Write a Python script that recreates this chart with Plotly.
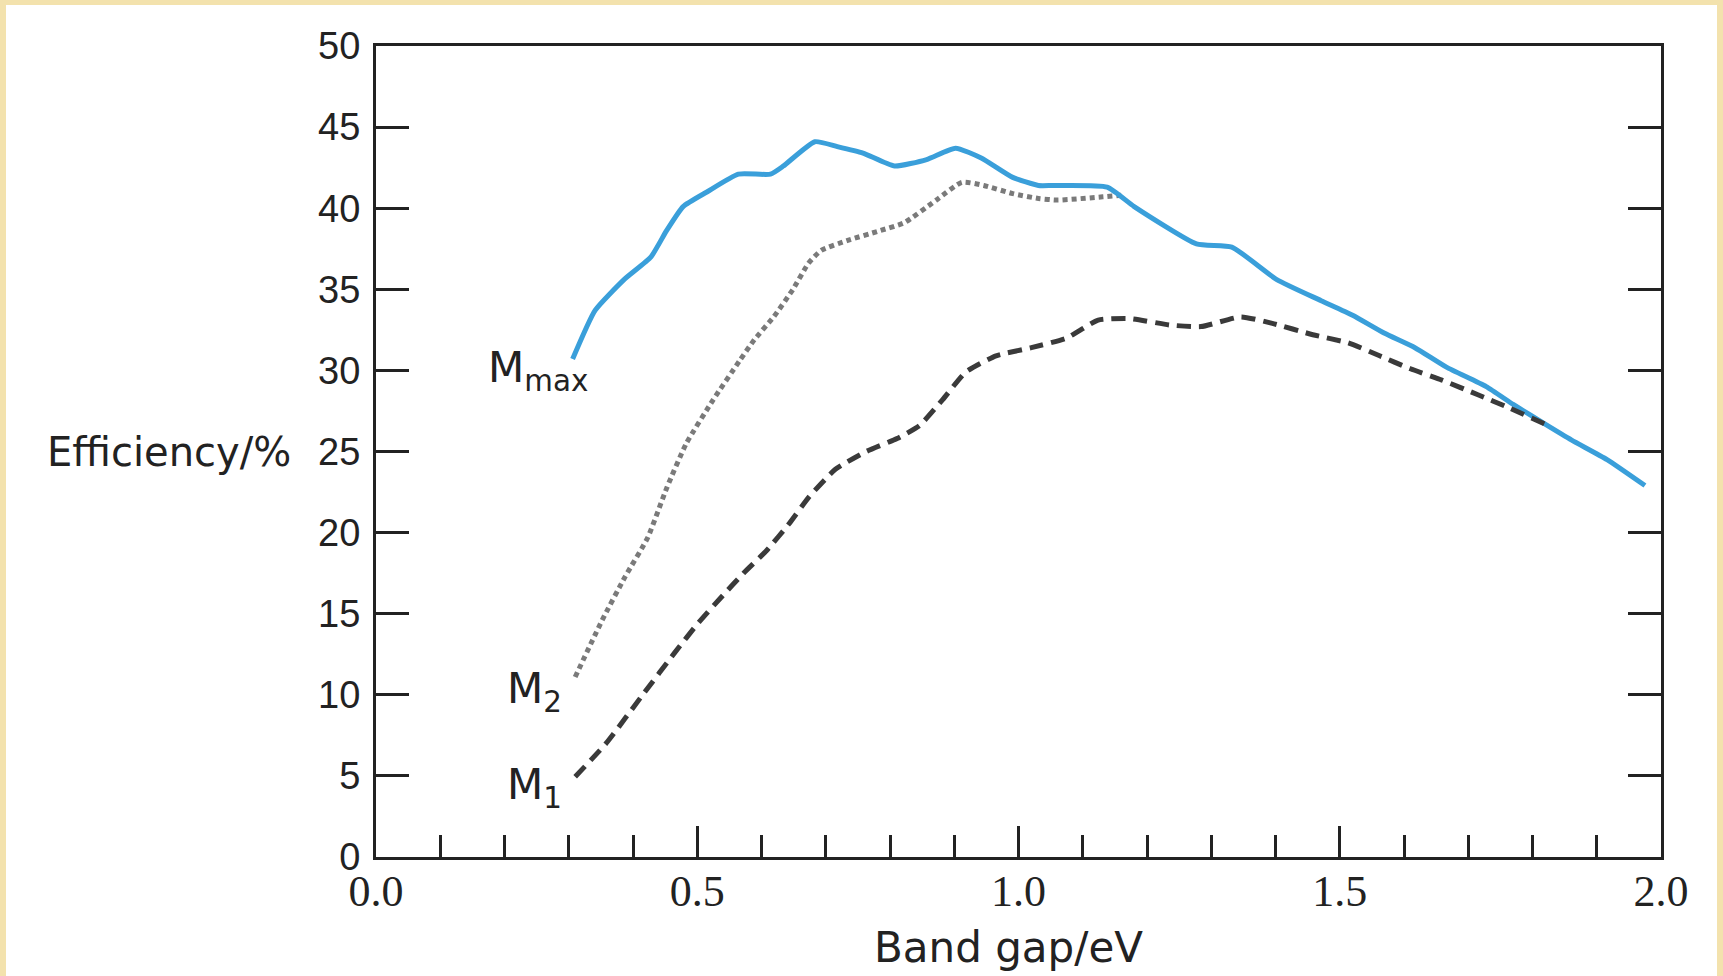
import plotly.graph_objects as go

# ---- data ----
mmax_x = [0.306, 0.341, 0.386, 0.428, 0.452, 0.478, 0.515, 0.564, 0.614, 0.634, 0.683, 0.718,
          0.758, 0.807, 0.857, 0.902, 0.942, 0.991, 1.031, 1.055, 1.138, 1.180, 1.277, 1.332,
          1.402, 1.471, 1.520, 1.569, 1.617, 1.666, 1.728, 1.770, 1.819, 1.861, 1.916, 1.975]
mmax_y = [30.7, 33.7, 35.6, 37.0, 38.6, 40.1, 41.0, 42.1, 42.1, 42.6, 44.1, 43.8,
          43.4, 42.6, 43.0, 43.7, 43.1, 41.9, 41.4, 41.4, 41.3, 40.1, 37.8, 37.6,
          35.6, 34.3, 33.4, 32.3, 31.4, 30.2, 29.0, 27.9, 26.7, 25.7, 24.5, 22.9]

m2_x = [0.310, 0.352, 0.388, 0.423, 0.453, 0.483, 0.525, 0.566, 0.589, 0.619, 0.649, 0.673,
        0.693, 0.733, 0.783, 0.822, 0.872, 0.912, 0.946, 0.991, 1.031, 1.061, 1.131, 1.160]
m2_y = [11.1, 14.6, 17.3, 19.7, 22.8, 25.5, 28.2, 30.6, 31.9, 33.3, 35.0, 36.6,
        37.4, 38.0, 38.6, 39.1, 40.5, 41.6, 41.4, 40.9, 40.6, 40.5, 40.7, 40.8]

m1_x = [0.310, 0.358, 0.417, 0.465, 0.501, 0.537, 0.572, 0.608, 0.644, 0.674, 0.715, 0.763,
        0.811, 0.846, 0.882, 0.918, 0.965, 1.020, 1.075, 1.124, 1.173, 1.235, 1.284, 1.346,
        1.395, 1.458, 1.513, 1.562, 1.610, 1.659, 1.715, 1.763, 1.819]
m1_y = [4.95, 7.0, 10.1, 12.6, 14.4, 16.0, 17.5, 18.9, 20.6, 22.2, 23.9, 25.0,
        25.8, 26.6, 28.2, 29.9, 30.9, 31.4, 32.0, 33.1, 33.2, 32.8, 32.7, 33.3,
        32.9, 32.2, 31.7, 30.9, 30.1, 29.4, 28.5, 27.7, 26.7]

x_ticks = [0.0, 0.5, 1.0, 1.5, 2.0]
y_ticks = [0, 5, 10, 15, 20, 25, 30, 35, 40, 45, 50]

W, H = 1723, 976
L, R, T, B = 376, 1661, 46, 857

fig = go.Figure()
fig.add_trace(go.Scatter(x=m2_x, y=m2_y, mode="lines",
                         line=dict(color="#7a7a7a", width=5, dash="5px,4px", shape="spline", smoothing=0.5)))
fig.add_trace(go.Scatter(x=mmax_x, y=mmax_y, mode="lines",
                         line=dict(color="#3a9fda", width=5, shape="spline", smoothing=0.5)))
fig.add_trace(go.Scatter(x=m1_x, y=m1_y, mode="lines",
                         line=dict(color="#3a3a3a", width=5, dash="14px,8px", shape="spline", smoothing=0.5)))

def px_x(p):
    return (p - L) / (R - L)

def px_y(p):
    return (B - p) / (B - T)

fig.add_shape(type="rect", xref="paper", yref="paper",
              x0=px_x(6), x1=px_x(1717), y0=px_y(980), y1=px_y(5),
              fillcolor="white", line=dict(width=0), layer="below")

lab_font = dict(family="DejaVu Sans", size=42, color="#222222")
fig.add_annotation(text="M<sub>max</sub>", x=0.333, y=30.0, xref="x", yref="y",
                   xanchor="right", yanchor="middle", showarrow=False, font=lab_font)
fig.add_annotation(text="M<sub>2</sub>", x=0.292, y=10.2, xref="x", yref="y",
                   xanchor="right", yanchor="middle", showarrow=False, font=lab_font)
fig.add_annotation(text="M<sub>1</sub>", x=0.292, y=4.3, xref="x", yref="y",
                   xanchor="right", yanchor="middle", showarrow=False, font=lab_font)
fig.add_annotation(text="Efficiency/%", x=px_x(293), y=25, xref="paper", yref="y",
                   xanchor="right", yanchor="middle", showarrow=False,
                   font=dict(family="DejaVu Sans", size=40, color="#222222"))
fig.add_annotation(text="Band gap/eV", x=0.985, y=px_y(947), xref="x", yref="paper",
                   xanchor="center", yanchor="middle", showarrow=False, font=lab_font)

fig.update_xaxes(range=[0, 2], tickvals=x_ticks, ticktext=[f"{v:.1f}" for v in x_ticks],
                 showgrid=False, zeroline=False,
                 showline=True, linecolor="#222222", linewidth=3, mirror=True,
                 ticks="inside", ticklen=31, tickwidth=2.5, tickcolor="#222222",
                 ticklabelstandoff=-7,
                 minor=dict(dtick=0.1, tick0=0, ticks="inside", ticklen=22, tickwidth=2.5,
                            tickcolor="#222222", showgrid=False),
                 tickfont=dict(family="Liberation Serif", size=44, color="#222222"))
fig.update_yaxes(range=[0, 50], tickvals=y_ticks, showgrid=False, zeroline=False,
                 showline=True, linecolor="#222222", linewidth=3, mirror="ticks",
                 ticks="inside", ticklen=33, tickwidth=2.5, tickcolor="#222222",
                 ticklabelstandoff=5,
                 tickfont=dict(family="Liberation Sans", size=38, color="#222222"))

fig.update_layout(width=W, height=H, autosize=False,
                  margin=dict(l=L, r=W - R, t=T, b=H - B, pad=0),
                  paper_bgcolor="#f3e2ad", plot_bgcolor="white",
                  showlegend=False)

fig.write_html("out.html", config={"displayModeBar": False},
               post_script="document.body.style.margin='0';document.body.style.overflow='hidden';")
